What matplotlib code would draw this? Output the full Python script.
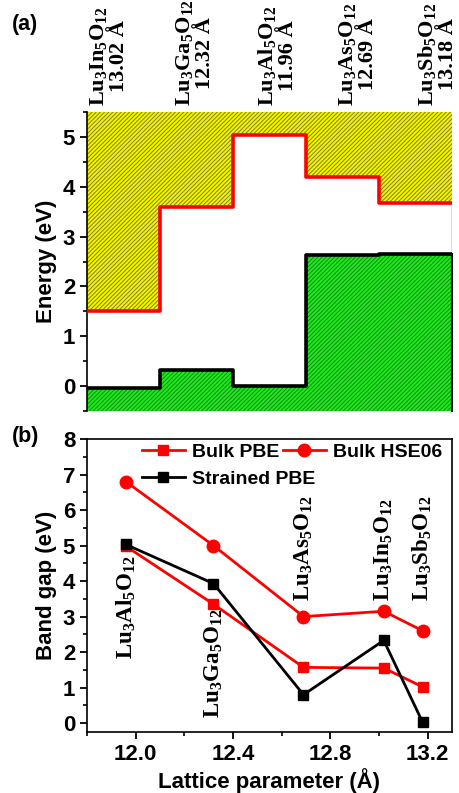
import numpy as np
import matplotlib
matplotlib.use('Agg')
import matplotlib.pyplot as plt
from matplotlib.ticker import MultipleLocator

plt.rcParams['font.family'] = 'Liberation Sans'
plt.rcParams['font.weight'] = 'bold'
plt.rcParams['mathtext.fontset'] = 'custom'
plt.rcParams['mathtext.rm'] = 'Liberation Serif:bold'
plt.rcParams['mathtext.it'] = 'Liberation Serif:bold'
plt.rcParams['mathtext.bf'] = 'Liberation Serif:bold'
plt.rcParams['hatch.linewidth'] = 0.7

# panel (a): band edges, ordered as drawn
a_names = ['Lu$_3$In$_5$O$_{12}$', 'Lu$_3$Ga$_5$O$_{12}$', 'Lu$_3$Al$_5$O$_{12}$',
           'Lu$_3$As$_5$O$_{12}$', 'Lu$_3$Sb$_5$O$_{12}$']
a_latt = ['13.02 Å', '12.32 Å', '11.96 Å', '12.69 Å', '13.18 Å']
cbm = [1.5, 3.6, 5.03, 4.2, 3.68]
vbm = [-0.03, 0.33, 0.0, 2.63, 2.65]

# panel (b): band gap vs lattice parameter
latt = [11.96, 12.32, 12.69, 13.02, 13.18]
b_names = ['Lu$_3$Al$_5$O$_{12}$', 'Lu$_3$Ga$_5$O$_{12}$', 'Lu$_3$As$_5$O$_{12}$',
           'Lu$_3$In$_5$O$_{12}$', 'Lu$_3$Sb$_5$O$_{12}$']
bulk_pbe = [4.98, 3.35, 1.57, 1.55, 1.02]
bulk_hse = [6.8, 5.0, 3.0, 3.15, 2.6]
strained_pbe = [5.03, 3.93, 0.8, 2.33, 0.02]

red = '#ff0000'
fs = 16
fig = plt.figure(figsize=(4.59, 7.93), dpi=100)
ax1 = fig.add_axes([0.1895, 0.4817, 0.795, 0.377])
ax2 = fig.add_axes([0.1895, 0.0769, 0.795, 0.3695])

# ---- (a)
xe = np.arange(len(cbm) + 1)
cb = np.append(cbm, cbm[-1])
vb = np.append(vbm, vbm[-1])
ax1.fill_between(xe, cb, 5.5, step='post', facecolor='#f4f400',
                 edgecolor='#80800a', hatch='////////', linewidth=0)
ax1.fill_between(xe, -0.5, vb, step='post', facecolor='#22e622',
                 edgecolor='#0e900e', hatch='////////', linewidth=0)
ax1.step(xe, cb, where='post', color=red, lw=2.6, zorder=3)
ax1.step(xe, vb, where='post', color='black', lw=2.6, zorder=3)
ax1.plot([5, 5], [vbm[-1], cbm[-1]], color=red, lw=1.0, zorder=3)
ax1.set_xlim(0, 5)
ax1.set_ylim(-0.5, 5.5)
for s in ['top', 'bottom']:
    ax1.spines[s].set_visible(False)
ax1.spines['right'].set_bounds(-0.5, vbm[-1])
ax1.spines['right'].set_linewidth(1.5)
ax1.spines['left'].set_linewidth(1.2)
ax1.set_xticks([])
ax1.yaxis.set_major_locator(MultipleLocator(1))
ax1.yaxis.set_minor_locator(MultipleLocator(0.5))
ax1.tick_params(axis='y', which='major', length=5, width=1.3, labelsize=fs)
ax1.tick_params(axis='y', which='minor', length=3, width=1.2)
ax1.set_ylabel('Energy (eV)', fontsize=fs, fontweight='bold', labelpad=4)
lab_x = [0.30, 1.47, 2.60, 3.70, 4.79]
for xp, n, l in zip(lab_x, a_names, a_latt):
    ax1.text(xp, 1.02, n + '\n' + l, transform=ax1.get_xaxis_transform(),
             rotation=90, ha='center', va='bottom', ma='center',
             fontsize=16, family='Liberation Serif', fontweight='bold',
             linespacing=1.0)
fig.text(0.025, 0.962, '(a)', fontsize=15.5, fontweight='bold')

# ---- (b)
h1, = ax2.plot(latt, bulk_pbe, '-s', color=red, lw=2, ms=7, label='Bulk PBE')
h2, = ax2.plot(latt, bulk_hse, '-o', color=red, lw=2, ms=9, label='Bulk HSE06')
h3, = ax2.plot(latt, strained_pbe, '-s', color='black', lw=2, ms=7,
               label='Strained PBE')
ax2.set_xlim(11.8, 13.3)
ax2.set_ylim(-0.25, 8)
ax2.xaxis.set_major_locator(MultipleLocator(0.4))
ax2.xaxis.set_minor_locator(MultipleLocator(0.2))
ax2.yaxis.set_major_locator(MultipleLocator(1))
ax2.yaxis.set_minor_locator(MultipleLocator(0.5))
ax2.xaxis.set_major_formatter(plt.FormatStrFormatter('%.1f'))
ax2.tick_params(which='major', length=5, width=1.3, labelsize=fs)
ax2.tick_params(which='minor', length=3, width=1.2)
for s in ax2.spines.values():
    s.set_linewidth(1.2)
ax2.set_xlabel('Lattice parameter (Å)', fontsize=fs, fontweight='bold',
               labelpad=2)
ax2.set_ylabel('Band gap (eV)', fontsize=fs, fontweight='bold', labelpad=4)
name_y = [1.8, 0.15, 3.45, 3.45, 3.45]
for xp, yp, n in zip(latt, name_y, b_names):
    ax2.text(xp, yp, n, rotation=90, ha='center', va='bottom', fontsize=16.5,
             family='Liberation Serif', fontweight='bold')

leg_kw = dict(frameon=False, handlelength=2.2, handletextpad=0.35,
              columnspacing=0.2, borderpad=0, borderaxespad=0,
              loc='upper left', prop={'weight': 'bold', 'size': 14})
leg1 = ax2.legend(handles=[h1, h2], ncol=2, bbox_to_anchor=(0.151, 0.985),
                  **leg_kw)
ax2.add_artist(leg1)
ax2.legend(handles=[h3], bbox_to_anchor=(0.151, 0.893), **leg_kw)
fig.text(0.025, 0.443, '(b)', fontsize=15.5, fontweight='bold')

fig.savefig('out.png', dpi=100)
